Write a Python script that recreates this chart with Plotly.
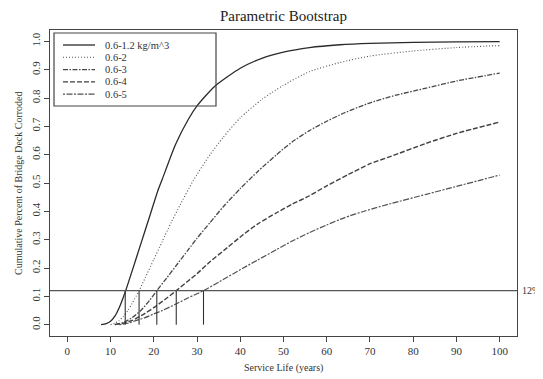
import plotly.graph_objects as go

# ---- data ----
labels = ["0.6-1.2 kg/m^3", "0.6-2", "0.6-3", "0.6-4", "0.6-5"]

s1_x = [7.8, 9, 10, 11, 12, 13.5, 15, 17, 19, 21, 22, 25, 28, 30, 34, 40, 45, 50, 56, 63, 70, 80, 90, 100]
s1_y = [0, 0.004, 0.012, 0.03, 0.06, 0.12, 0.19, 0.285, 0.38, 0.475, 0.515, 0.635, 0.725, 0.772, 0.84,
        0.905, 0.94, 0.962, 0.978, 0.988, 0.993, 0.996, 0.998, 0.999]

s2_x = [10, 11, 12, 13, 14, 15, 16.6, 18, 20, 22, 24, 26, 29, 33, 36, 40, 45, 50, 56, 63, 70, 80, 90, 100]
s2_y = [0, 0.005, 0.015, 0.03, 0.05, 0.075, 0.12, 0.165, 0.23, 0.295, 0.36, 0.42, 0.505, 0.6, 0.66,
        0.73, 0.795, 0.845, 0.893, 0.925, 0.948, 0.966, 0.978, 0.985]

s3_x = [11, 13, 15, 17, 19, 20.7, 23, 25, 28, 30, 33, 36, 40, 44, 48.4, 52, 56, 60, 64, 70, 76, 83, 90, 100]
s3_y = [0, 0.008, 0.025, 0.05, 0.085, 0.12, 0.165, 0.205, 0.265, 0.305, 0.36, 0.415, 0.48, 0.54, 0.6,
        0.645, 0.685, 0.718, 0.747, 0.783, 0.81, 0.835, 0.86, 0.888]

s4_x = [11, 13, 15, 18, 20, 22.5, 25.2, 28, 30, 33, 37, 40.7, 44, 48.4, 52, 56, 60, 65, 70, 75, 83, 90, 100]
s4_y = [0, 0.005, 0.015, 0.04, 0.06, 0.088, 0.12, 0.155, 0.18, 0.222, 0.272, 0.318, 0.355, 0.395,
        0.425, 0.455, 0.49, 0.53, 0.568, 0.595, 0.64, 0.675, 0.715]

s5_x = [12, 14, 16, 18, 20, 22, 25, 28, 31.5, 35, 40.7, 44, 48.4, 52, 56, 60, 64, 69, 75, 83, 90, 96, 100]
s5_y = [0, 0.005, 0.015, 0.025, 0.038, 0.05, 0.072, 0.095, 0.12, 0.15, 0.2, 0.228, 0.265, 0.295,
        0.325, 0.352, 0.377, 0.402, 0.428, 0.46, 0.488, 0.512, 0.528]

threshold = 0.12
threshold_label = "12%"
crossing_years = [13.4, 16.6, 20.7, 25.2, 31.5]

x_ticks = list(range(0, 101, 10))
y_ticks = [round(i / 10, 1) for i in range(11)]

# ---- styling ----
FONT = "Liberation Serif, Times New Roman, serif"
series = [(s1_x, s1_y), (s2_x, s2_y), (s3_x, s3_y), (s4_x, s4_y), (s5_x, s5_y)]
dashes = ["solid", "1px,2px", "5px,1.5px,1.5px,1.5px", "5px,2px", "2px,1.5px,6px,1.5px"]
colors = ["#2a2a2a", "#555555", "#484848", "#404040", "#505050"]
widths = [1.3, 1.1, 1.3, 1.4, 1.2]

# page offset (browser body margin) compensation
OFF = 8
FIG_W, FIG_H = 543 - OFF, 379 - OFF
ML, MR, MT, MB = 50 - OFF, 26, 30 - OFF, 43

# plot area in page pixels
W, H, L, T = 467.0, 306.0, 50.0, 30.0
def px(xp):
    return (xp - L) / W
def py(yp):
    return (T + H - yp) / H

fig = go.Figure()
for (xs, ys), lab, d, c, w in zip(series, labels, dashes, colors, widths):
    fig.add_trace(go.Scatter(x=xs, y=ys, mode="lines", name=lab,
                             line=dict(color=c, width=w, dash=d, shape="spline", smoothing=0.6),
                             showlegend=False))

# vertical segments at the threshold crossings
for xv in crossing_years:
    fig.add_trace(go.Scatter(x=[xv, xv], y=[0, threshold], mode="lines",
                             line=dict(color="#333333", width=1.1), showlegend=False,
                             hoverinfo="skip"))

shapes = [dict(type="line", xref="paper", yref="y", x0=0, x1=1, y0=threshold, y1=threshold,
               line=dict(color="#555555", width=1.1))]
annotations = [
    dict(text=threshold_label, xref="paper", yref="y", x=px(520), y=threshold,
         xanchor="left", yanchor="middle", showarrow=False,
         font=dict(family=FONT, size=10, color="#333333")),
    dict(text="Service Life (years)", xref="paper", yref="paper", x=px(283.5), y=py(368),
         xanchor="center", yanchor="middle", showarrow=False,
         font=dict(family=FONT, size=10, color="#333333")),
    dict(text="Cumulative Percent of Bridge Deck Corroded", xref="paper", yref="paper",
         x=px(18), y=py(183), textangle=-90, xanchor="center", yanchor="middle",
         showarrow=False, font=dict(family=FONT, size=10, color="#333333")),
]

# manual legend (compact like R's legend)
shapes.append(dict(type="rect", xref="paper", yref="paper", x0=px(54), x1=px(216),
                   y0=py(106), y1=py(33), line=dict(color="#444444", width=1.2),
                   fillcolor="rgba(0,0,0,0)"))
row_y = [45, 57.3, 69.6, 81.9, 94.2]
for lab, d, c, w, ry in zip(labels, dashes, colors, widths, row_y):
    shapes.append(dict(type="line", xref="paper", yref="paper", x0=px(63), x1=px(95),
                       y0=py(ry), y1=py(ry), line=dict(color=c, width=w, dash=d)))
    annotations.append(dict(text=lab, xref="paper", yref="paper", x=px(103), y=py(ry),
                            xanchor="left", yanchor="middle", showarrow=False,
                            font=dict(family=FONT, size=10.5, color="#333333")))

fig.update_layout(
    width=FIG_W, height=FIG_H,
    margin=dict(l=ML, r=MR, t=MT, b=MB, autoexpand=False),
    paper_bgcolor="white", plot_bgcolor="white",
    font=dict(family=FONT, size=11, color="#333333"),
    title=dict(text="Parametric Bootstrap", x=(L + W / 2 - OFF) / FIG_W, xanchor="center",
               y=1 - (16 - OFF) / FIG_H, yanchor="middle",
               font=dict(family=FONT, size=15, color="#222222")),
    shapes=shapes, annotations=annotations, showlegend=False,
)
fig.update_xaxes(range=[-4, 104], tickvals=x_ticks, ticktext=[str(v) for v in x_ticks],
                 ticks="outside", ticklen=5, tickcolor="#444444", showgrid=False, zeroline=False,
                 showline=True, mirror=True, linecolor="#444444", linewidth=1.2,
                 tickfont=dict(size=11), automargin=False)
fig.update_yaxes(range=[-0.04, 1.04], tickvals=y_ticks, ticktext=[f"{v:.1f}" for v in y_ticks],
                 tickangle=-90, ticks="outside", ticklen=5, tickcolor="#444444", showgrid=False,
                 zeroline=False, showline=True, mirror=True, linecolor="#444444", linewidth=1.2,
                 tickfont=dict(size=11), automargin=False)

fig.write_html("out.html")
